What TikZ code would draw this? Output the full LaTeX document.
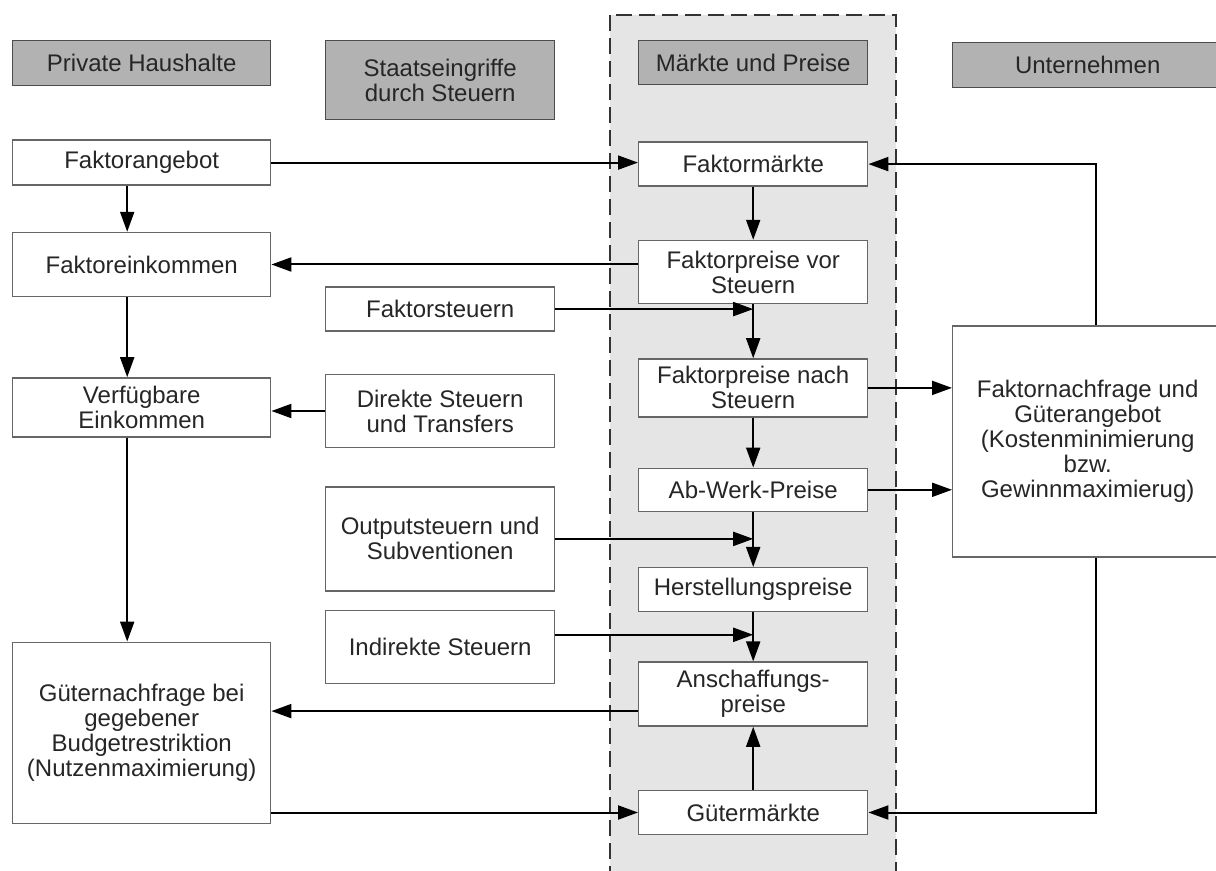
\documentclass[tikz,border=0pt]{standalone}
\usepackage{fontspec}
\setmainfont{Liberation Sans}
\usetikzlibrary{positioning,arrows.meta}

\tikzset{
    box/.style = {rectangle, draw = black!60, line width = 0.7pt, fill = white, align = center, inner sep = 2pt, text = black!85, font = \fontsize{12}{12.5}\selectfont},
    kopf/.style = {box, fill = gray!60, draw = black!70},
    hh/.style = {box, minimum width = 129pt},
    stb/.style = {box, minimum width = 114.5pt},
    mkt/.style = {box, minimum width = 114.5pt},
    unt/.style = {box, minimum width = 135pt},
    pfeil/.style = {-{Triangle[length = 10pt, width = 7pt]}, line width = 1pt}
}

\begin{document}
\begin{tikzpicture}
    \useasboundingbox (0,0) rectangle (608pt,-435.5pt);
    \draw [fill = gray!20, draw = black!80, line width = 1.3pt, dash pattern = on 8pt off 3.5pt] (305pt,-7.5pt) rectangle (448pt,-445pt);

    \node [kopf, minimum width = 129pt, minimum height = 22.5pt, anchor = north west] (ph) at (6pt,-20pt) {Private Haushalte};
    \node [kopf, minimum width = 114.5pt, minimum height = 39.5pt, anchor = north west] (st) at (162.5pt,-20pt) {Staatseingriffe\\durch Steuern};
    \node [kopf, minimum width = 114.5pt, minimum height = 22pt, anchor = north west] (mp) at (319pt,-20pt) {Märkte und Preise};
    \node [kopf, minimum width = 135pt, minimum height = 22.5pt, anchor = north west] (un) at (476pt,-21pt) {Unternehmen};

    \node [hh, minimum height = 22.5pt] (fa) [below = 26.5pt of ph] {Faktorangebot};
    \node [hh, minimum height = 32pt] (fe) [below = 23pt of fa] {Faktoreinkommen};
    \node [hh, minimum height = 29.5pt] (ve) [below = 40pt of fe] {Verfügbare\\Einkommen};
    \node [hh, minimum height = 90.5pt] (gn) [below = 102pt of ve] {Güternachfrage bei\\gegebener\\Budgetrestriktion\\(Nutzenmaximierung)};

    \node [stb, minimum height = 22pt] (fst) [below = 83pt of st] {Faktorsteuern};
    \node [stb, minimum height = 36.5pt] (ds) [below = 21pt of fst] {Direkte Steuern\\und Transfers};
    \node [stb, minimum height = 52pt] (os) [below = 19pt of ds] {Outputsteuern und\\Subventionen};
    \node [stb, minimum height = 36.5pt] (is) [below = 9pt of os] {Indirekte Steuern};

    \node [mkt, minimum height = 22pt] (fm) [below = 28pt of mp] {Faktormärkte};
    \node [mkt, minimum height = 31.5pt] (fvs) [below = 26.5pt of fm] {Faktorpreise vor\\Steuern};
    \node [mkt, minimum height = 29pt] (fns) [below = 27pt of fvs] {Faktorpreise nach\\Steuern};
    \node [mkt, minimum height = 21.5pt] (awp) [below = 25pt of fns] {Ab-Werk-Preise};
    \node [mkt, minimum height = 22pt] (hp) [below = 27.5pt of awp] {Herstellungspreise};
    \node [mkt, minimum height = 32pt] (ap) [below = 24.5pt of hp] {Anschaffungs-\\preise};
    \node [mkt, minimum height = 22pt] (gm) [below = 31.5pt of ap] {Gütermärkte};

    \node [unt, minimum height = 115.5pt] (fn) [below = 118.5pt of un] {Faktornachfrage und\\Güterangebot\\(Kostenminimierung\\bzw.\\Gewinnmaximierug)};

    \coordinate (isx) at ([yshift = 6pt]is.east);
    \coordinate (apx) at ([yshift = -8.5pt]ap.west);

    \path [pfeil]
        ([xshift = -7.25pt]fa.south) edge ([xshift = -7.25pt]fe.north)
        ([xshift = -7.25pt]fe.south) edge ([xshift = -7.25pt]ve.north)
        ([xshift = -7.25pt]ve.south) edge ([xshift = -7.25pt]gn.north)
        (fa.east) edge (fa.east -| fm.west)
        (fe.east -| fvs.west) edge (fe.east)
        (ds.west) edge (ds.west -| ve.east)
        (apx) edge (apx -| gn.east)
        (gn.east |- gm.west) edge (gm.west)
        (fst.east) edge (fst.east -| fvs.south)
        (os.east) edge (os.east -| awp.south)
        (isx) edge (isx -| hp.south)
        (fm) edge (fvs)
        (fvs) edge (fns)
        (fns) edge (awp)
        (awp) edge (hp)
        (hp) edge (ap)
        (gm) edge (ap)
        (fns.east) edge (fns.east -| fn.west)
        (awp.east) edge (awp.east -| fn.west);
    \draw [pfeil] ([xshift = 4pt]fn.north) |- (fm.east);
    \draw [pfeil] ([xshift = 4pt]fn.south) |- (gm.east);
\end{tikzpicture}
\end{document}
